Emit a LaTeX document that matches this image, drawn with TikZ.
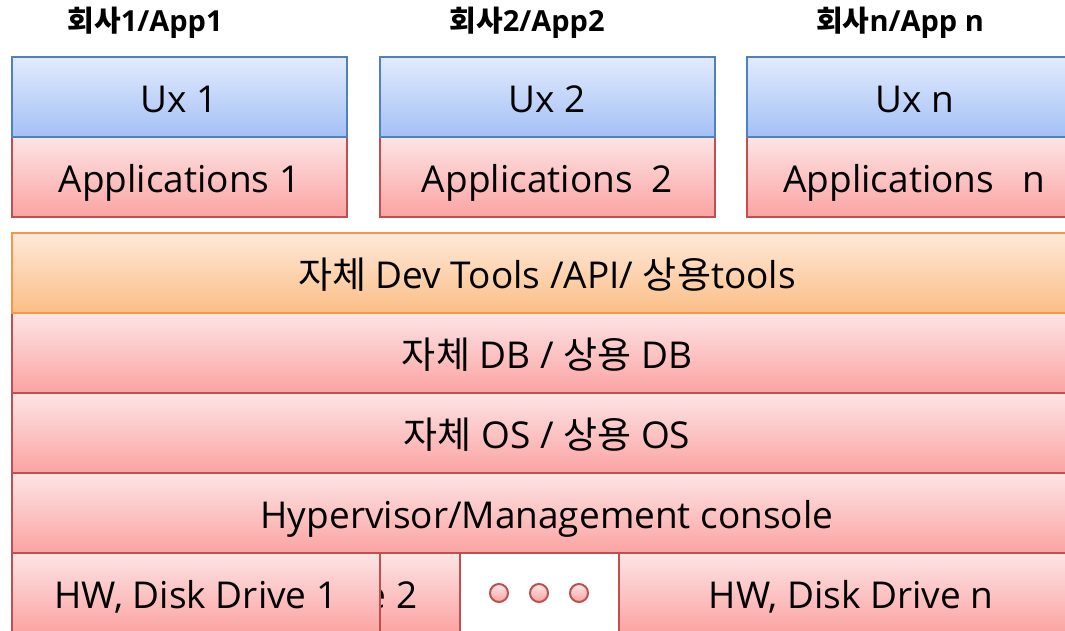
\documentclass[tikz,border=0pt]{standalone}
\usepackage{fontspec}
\setmainfont{Open Sans}
\newfontfamily\kr{Noto Sans CJK KR}
\definecolor{btop}{HTML}{E2EBFC}
\definecolor{bbot}{HTML}{A3C0F6}
\definecolor{bbord}{HTML}{4F81BD}
\definecolor{rtop}{HTML}{FDE4E5}
\definecolor{rbot}{HTML}{FBA3A2}
\definecolor{rbord}{HTML}{C0504D}
\definecolor{otop}{HTML}{FEE9D9}
\definecolor{obot}{HTML}{FBBE86}
\definecolor{obord}{HTML}{F79646}
\begin{document}
\begin{tikzpicture}[x=1pt,y=-1pt,
  box/.style={draw, line width=2pt, anchor=north west, inner sep=0pt, outer sep=0pt,
    minimum height=80pt, text height=40pt, text depth=9pt,
    font=\fontsize{37}{44}\selectfont, text=black},
  bluebox/.style={box, draw=bbord, top color=btop, bottom color=bbot},
  redbox/.style={box, draw=rbord, top color=rtop, bottom color=rbot},
  orangebox/.style={box, draw=obord, top color=otop, bottom color=obot},
  title/.style={font=\fontsize{29}{34}\selectfont\bfseries, inner sep=0pt},
  dot/.style={circle, draw=rbord, line width=2pt, minimum size=18pt, inner sep=0pt, top color=rtop, bottom color=rbot}
]
\path[use as bounding box, clip] (0,0) rectangle (1065,631);
% titles
\node[title] (t1) at (145,23) {{\kr 회사}1/App1};
\node[title] (t2) at (527,23) {{\kr 회사}2/App2};
\node[title] (t3) at (900,23) {{\kr 회사}n/App n};
% application stacks
\node[redbox, minimum width=335pt] (app1) at (12,137) {Applications 1};
\node[bluebox, minimum width=335pt] (ux1) at (12,57) {Ux 1};
\node[redbox, minimum width=335pt] (app2) at (380,137) {Applications\ \ 2};
\node[bluebox, minimum width=335pt] (ux2) at (380,57) {Ux 2};
\node[redbox, minimum width=335pt] (app3) at (747,137) {Applications\ \ \ n};
\node[bluebox, minimum width=335pt] (ux3) at (747,57) {Ux n};
% layers
\node[redbox, minimum width=1070pt] (hv) at (12,473) {Hypervisor/Management console};
\node[redbox, minimum width=1070pt] (os) at (12,393) {{\kr 자체} OS / {\kr 상용} OS};
\node[redbox, minimum width=1070pt] (db) at (12,313) {{\kr 자체} DB / {\kr 상용} DB};
\node[orangebox, minimum width=1070pt] (tools) at (12,233) {{\kr 자체} Dev Tools /API/ {\kr 상용}tools};
% hardware row
\node[redbox, minimum width=368pt] (hw2) at (92,553) {HW, Disk Drive 2};
\node[redbox, minimum width=368pt] (hw1) at (12,553) {HW, Disk Drive 1};
\node[box, draw=rbord, fill=white, minimum width=159pt] (gap) at (460,553) {};
\node[redbox, minimum width=464pt] (hwn) at (619,553) {HW, Disk Drive n};
\node[dot] (c1) at (499,593) {};
\node[dot] (c2) at (539,593) {};
\node[dot] (c3) at (579,593) {};
\end{tikzpicture}
\end{document}
